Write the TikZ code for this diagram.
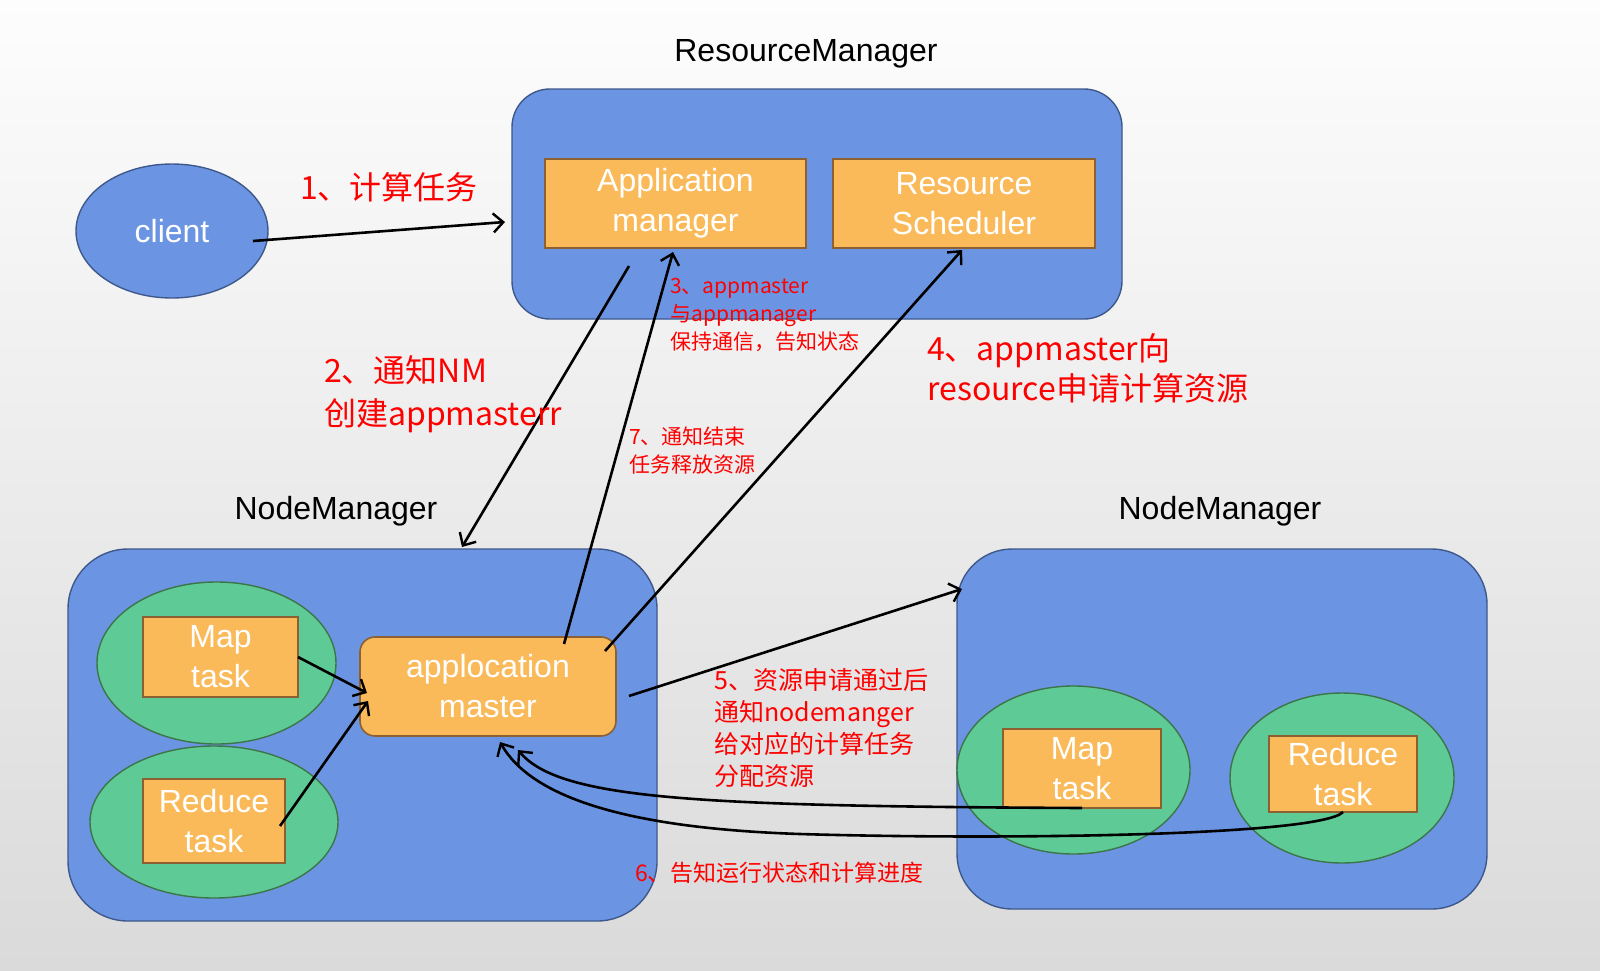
\documentclass[tikz,border=0pt]{standalone}
\usepackage{fontspec}
\setmainfont{Liberation Sans}
\newfontfamily\cjk{Noto Sans CJK SC}
\usetikzlibrary{arrows.meta,shapes.geometric}
\definecolor{bluefill}{RGB}{107,149,226}
\definecolor{blueborder}{RGB}{62,88,140}
\definecolor{orangefill}{RGB}{250,186,90}
\definecolor{orangeborder}{RGB}{140,96,48}
\definecolor{greenfill}{RGB}{94,202,150}
\definecolor{greenborder}{RGB}{60,118,72}
\definecolor{bgtop}{RGB}{253,253,253}
\definecolor{bgbottom}{RGB}{218,218,218}
\definecolor{labelred}{RGB}{255,0,0}
\begin{document}
\begin{tikzpicture}[x=1pt,y=-1pt,
  container/.style={draw=blueborder,fill=bluefill,line width=1.4pt,inner sep=0pt},
  orangebox/.style={draw=orangeborder,fill=orangefill,line width=1.6pt,text=white,
    font=\fontsize{32}{40}\selectfont,align=center,inner sep=0pt},
  greenell/.style={ellipse,draw=greenborder,fill=greenfill,line width=1.4pt,inner sep=0pt},
  titletext/.style={font=\fontsize{32}{38}\selectfont,inner sep=0pt},
  redbig/.style={text=labelred,align=left,inner sep=0pt,anchor=west,font=\cjk\fontsize{32}{43}\selectfont},
  redsmall/.style={text=labelred,align=left,inner sep=0pt,anchor=west,font=\cjk\fontsize{21}{28}\selectfont},
  redmid/.style={text=labelred,align=left,inner sep=0pt,anchor=west,font=\cjk\fontsize{25}{32}\selectfont},
  conn/.style={line width=2.6pt,-{Straight Barb[length=10pt,width=19pt,line width=2.4pt]}}
]
\shade[top color=bgtop,bottom color=bgbottom] (0,0) rectangle (1600,970);
\useasboundingbox (0,0) rectangle (1600,970);

% ResourceManager
\node[titletext] (rmlabel) at (806,54) {ResourceManager};
\node[container,rounded corners=38pt,minimum width=610pt,minimum height=230pt] (rm) at (817,204) {};
\node[orangebox,minimum width=261pt,minimum height=89pt] (appmgr) at (675.5,203.5) {Application\\manager};
\node[orangebox,minimum width=262pt,minimum height=89pt] (rs) at (964,203.5) {Resource\\Scheduler};

% client
\node[ellipse,draw=blueborder,fill=bluefill,line width=1.4pt,minimum width=192pt,minimum height=134pt,
  text=white,font=\fontsize{32}{38}\selectfont,inner sep=0pt] (client) at (172,231) {client};

% NodeManager left
\node[titletext] (nm1label) at (336,511) {NodeManager};
\node[container,rounded corners=60pt,minimum width=589pt,minimum height=372pt] (nm1) at (362.5,735) {};
\node[greenell,minimum width=239pt,minimum height=162pt] (map1e) at (216.5,663) {};
\node[orangebox,minimum width=155pt,minimum height=80pt] (map1) at (220.5,657) {Map\\task};
\node[greenell,minimum width=248pt,minimum height=152pt] (red1e) at (214,822) {};
\node[orangebox,minimum width=142pt,minimum height=84pt] (red1) at (214,821) {Reduce\\task};
\node[orangebox,rounded corners=15pt,minimum width=256pt,minimum height=99pt] (am) at (488,686.5) {applocation\\master};

% NodeManager right
\node[titletext] (nm2label) at (1220,511) {NodeManager};
\node[container,rounded corners=55pt,minimum width=530pt,minimum height=360pt] (nm2) at (1222,729) {};
\node[greenell,minimum width=233pt,minimum height=168pt] (map2e) at (1073.5,770) {};
\node[orangebox,minimum width=158pt,minimum height=79pt] (map2) at (1082,768.5) {Map\\task};
\node[greenell,minimum width=224pt,minimum height=170pt] (red2e) at (1342,778) {};
\node[orangebox,minimum width=148pt,minimum height=76pt] (red2) at (1343,774) {Reduce\\task};

% connector end points
\coordinate (c1s) at (253,241);
\coordinate (c1e) at (505,222);
\coordinate (c2s) at (629,266);
\coordinate (c2e) at (462,547);
\coordinate (c3s) at (564,644);
\coordinate (c3e) at (673,252);
\coordinate (c4s) at (605,651);
\coordinate (c4e) at (962,250);
\coordinate (cms) at (298,657);
\coordinate (cme) at (367,693);
\coordinate (crs) at (280,826);
\coordinate (cre) at (368,701);
\coordinate (c5s) at (629,696);
\coordinate (c5e) at (962,589);
\coordinate (c6as) at (1082,808);
\coordinate (c6ae) at (518,750);
\coordinate (c6bs) at (1343,812);
\coordinate (c6bm) at (800,834);
\coordinate (c6be) at (500,742);

% connectors
\draw[conn] (c1s) -- (c1e);
\draw[conn] (c2s) -- (c2e);
\draw[conn] (c3s) -- (c3e);
\draw[conn] (c4s) -- (c4e);
\draw[conn] (cms) -- (cme);
\draw[conn] (crs) -- (cre);
\draw[conn] (c5s) -- (c5e);
\draw[conn] (c6as) .. controls (700,806) and (560,800) .. (c6ae);
\draw[conn] (c6bs) .. controls (1320,836) and (1000,840) .. (c6bm) .. controls (620,828) and (530,795) .. (c6be);

% labels
\node[redbig] (l1) at (300,187) {1、计算任务};
\node[redbig] (l2) at (324,394) {2、通知NM\\创建appmasterr};
\node[redsmall] (l3) at (670,315) {3、appmaster\\与appmanager\\保持通信，告知状态};
\node[redbig,font=\cjk\fontsize{32}{40}\selectfont] (l4) at (927,368) {4、appmaster向\\resource申请计算资源};
\node[redsmall] (l7) at (629,450.5) {7、通知结束\\任务释放资源};
\node[redmid] (l5) at (714,728) {5、资源申请通过后\\通知nodemanger\\给对应的计算任务\\分配资源};
\node[redsmall,font=\cjk\fontsize{23}{28}\selectfont] (l6) at (635,873) {6、告知运行状态和计算进度};
\end{tikzpicture}
\end{document}
